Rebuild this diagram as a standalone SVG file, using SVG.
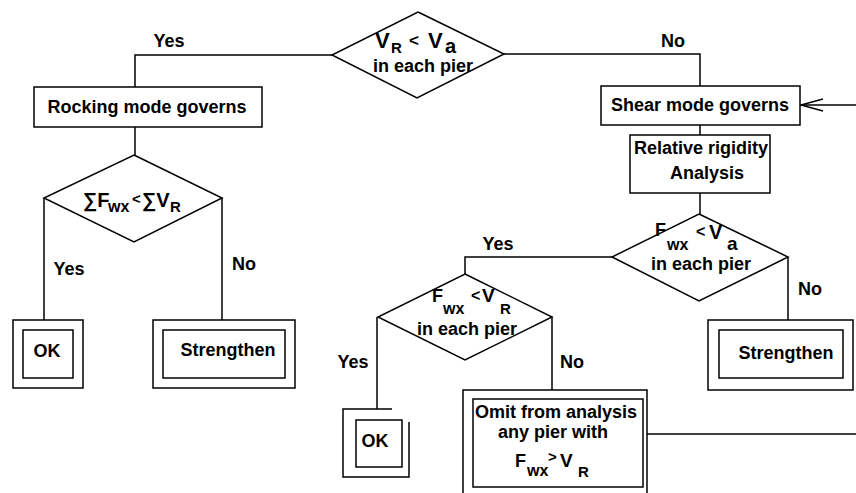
<svg xmlns="http://www.w3.org/2000/svg" width="856" height="493" viewBox="0 0 856 493">
<style>
.s{fill:none;stroke:#000;stroke-width:1.5}
.b{fill:#fff;stroke:#000;stroke-width:1.5}
.t{font-family:"Liberation Sans",Arial,sans-serif;font-weight:bold;font-size:18px;fill:#000}
.c{text-anchor:middle}
.m{font-family:"Liberation Sans","DejaVu Sans",sans-serif}
</style>
<defs>
<marker id="open" viewBox="-24 -8 26 16" refX="0" refY="0" markerWidth="26" markerHeight="16" markerUnits="userSpaceOnUse" orient="auto" overflow="visible">
<path d="M-22,-6 L0,0 L-22,6" fill="none" stroke="#000" stroke-width="1.5"/>
</marker>
</defs>
<rect width="856" height="493" fill="#fff"/>
<g id="connectors" class="s">
<path d="M332,55 H135 V87"/>
<path d="M135,127 V155"/>
<path d="M44,198 V320"/>
<path d="M222,198 V320"/>
<path d="M504,54 H700 V86"/>
<path d="M700,125 V135"/>
<path d="M700,193 V214"/>
<path d="M788,257 V320"/>
<path d="M612,257 H465 V274"/>
<path d="M377,317 V409"/>
<path d="M552,317 V390"/>
<path d="M647,434 H856"/>
<path d="M856,105 H801" marker-end="url(#open)"/>
</g>
<g id="labels" class="t c">
<text x="169" y="47">Yes</text>
<text x="673" y="47">No</text>
<text x="69" y="275">Yes</text>
<text x="244" y="270">No</text>
<text x="498" y="250">Yes</text>
<text x="353" y="368">Yes</text>
<text x="572" y="368">No</text>
<text x="810" y="295">No</text>
</g>
<g id="d1">
<polygon class="b" points="418,12 504,54 417,98 332,55"/>
<text class="t m"><tspan x="375" y="48" font-size="22">V</tspan><tspan x="391" y="53" font-size="15">R</tspan><tspan x="409" y="46" font-size="17">&lt;</tspan><tspan x="428" y="48" font-size="22">V</tspan><tspan x="445" y="53" font-size="20">a</tspan></text>
<text class="t c" x="423" y="72" font-size="17">in each pier</text>
</g>
<g id="rocking">
<rect class="b" x="34" y="87" width="228" height="40"/>
<text class="t c" x="147" y="113">Rocking mode governs</text>
</g>
<g id="d2">
<polygon class="b" points="134,155 222,198 134,242 44,198"/>
<text class="t m"><tspan x="83" y="207" font-size="20">∑F</tspan><tspan x="108" y="212" font-size="16">wx</tspan><tspan x="132" y="204" font-size="15">&lt;</tspan><tspan x="142" y="207" font-size="20">∑V</tspan><tspan x="170" y="212" font-size="15">R</tspan></text>
</g>
<g id="ok1">
<rect class="b" x="13" y="320" width="70" height="68"/>
<rect class="b" x="23" y="330" width="50" height="48"/>
<text class="t c" x="47" y="357">OK</text>
</g>
<g id="str1">
<rect class="b" x="153" y="320" width="142" height="68"/>
<rect class="b" x="163" y="330" width="122" height="48"/>
<text class="t c" x="228" y="356">Strengthen</text>
</g>
<g id="shear">
<rect class="b" x="601" y="86" width="199" height="39"/>
<text class="t c" x="700" y="111">Shear mode governs</text>
</g>
<g id="rigidity">
<rect class="b" x="630" y="135" width="140" height="58"/>
<text class="t c" x="701" y="154" font-size="17">Relative rigidity</text>
<text class="t c" x="707" y="179" font-size="17">Analysis</text>
</g>
<g id="d3">
<polygon class="b" points="699,214 788,257 699,301 612,257"/>
<text class="t m"><tspan x="655" y="236" font-size="18">F</tspan><tspan x="667" y="250" font-size="16">wx</tspan><tspan x="696" y="237" font-size="16">&lt;</tspan><tspan x="709" y="239" font-size="20">V</tspan><tspan x="727" y="250" font-size="19">a</tspan></text>
<text class="t c" x="701" y="270" font-size="17">in each pier</text>
</g>
<g id="str2">
<rect class="b" x="708" y="320" width="145" height="70"/>
<rect class="b" x="719" y="330" width="124" height="48"/>
<text class="t c" x="786" y="359">Strengthen</text>
</g>
<g id="d4">
<polygon class="b" points="465,274 552,317 465,360 378,317"/>
<text class="t m"><tspan x="432" y="302" font-size="18">F</tspan><tspan x="443" y="314" font-size="16">wx</tspan><tspan x="471" y="301" font-size="16">&lt;</tspan><tspan x="482" y="302" font-size="19">V</tspan><tspan x="500" y="314" font-size="15">R</tspan></text>
<text class="t c" x="467" y="335" font-size="17">in each pier</text>
</g>
<g id="ok2">
<path class="s" d="M392,409 H343 V477 H409 V422"/>
<rect class="b" x="356" y="420" width="46" height="47"/>
<text class="t c" x="375" y="447">OK</text>
</g>
<g id="omit">
<path class="s" d="M463,500 V390 H647 V500"/>
<rect class="b" x="473" y="399" width="170" height="88"/>
<text class="t c" x="556" y="418" font-size="16">Omit from analysis</text>
<text class="t c" x="553" y="438" font-size="16">any pier with</text>
<text class="t m"><tspan x="515" y="467" font-size="18">F</tspan><tspan x="527" y="476" font-size="16">wx</tspan><tspan x="548" y="462" font-size="15">&gt;</tspan><tspan x="560" y="467" font-size="19">V</tspan><tspan x="578" y="477" font-size="15">R</tspan></text>
</g>
</svg>
